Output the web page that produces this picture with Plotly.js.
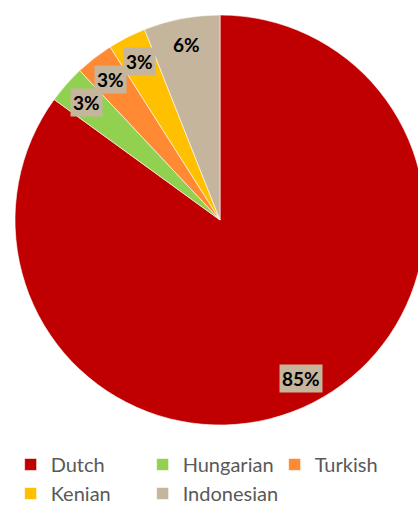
<!DOCTYPE html>
<html><head><meta charset="utf-8">
<script src="https://cdn.plot.ly/plotly-3.0.1.min.js"></script>
<style>html,body{margin:0;padding:0;overflow:hidden;background:#fff}#chart{width:425px;height:518px}</style>
</head><body><div id="chart"></div>
<script>
const categories = ["Dutch", "Hungarian", "Turkish", "Kenian", "Indonesian"];
const values = [85, 3, 3, 3, 6];
const colors = ["#C00000", "#92D050", "#FF8A33", "#FFC000", "#C4B59C"];

const W = 425, H = 518;
const domX = [15 / W, 1];
const domY = [(H - 425) / H, (H - 15) / H];
const cx = (domX[0] + domX[1]) / 2 * W;
const cy = H - (domY[0] + domY[1]) / 2 * H;
const R = Math.min((domX[1] - domX[0]) * W, (domY[1] - domY[0]) * H) / 2;

const total = values.reduce((a, b) => a + b, 0);
const annotations = [];
let cum = 0;
values.forEach((v, i) => {
  const mid = (cum + v / 2) / total * 2 * Math.PI;
  cum += v;
  const r = R * 0.87;
  const px = cx + r * Math.sin(mid);
  const py = cy - r * Math.cos(mid);
  annotations.push({
    x: px / W, y: 1 - py / H, xref: "paper", yref: "paper",
    xanchor: "center", yanchor: "middle",
    text: Math.round(v / total * 100) + "%", showarrow: false,
    font: {family: "Lato, 'Liberation Sans', sans-serif", size: 19, color: "#000", weight: "bold"},
    bgcolor: "#C4B59C", borderpad: 2
  });
});

const trace = {
  type: "pie", labels: categories, values: values, sort: false,
  direction: "clockwise", rotation: 0, textinfo: "none", hoverinfo: "label+percent",
  marker: {colors: colors, line: {color: "#ffffff", width: 0.6}},
  domain: {x: domX, y: domY}
};

const layout = {
  width: W, height: H, margin: {l: 0, r: 0, t: 0, b: 0},
  paper_bgcolor: "#fff", showlegend: true,
  legend: {orientation: "h", x: 0.025, xanchor: "left", y: 0.141, yanchor: "top",
    entrywidth: 87, entrywidthmode: "pixels", traceorder: "normal",
    font: {family: "Lato, 'Liberation Sans', sans-serif", size: 20, color: "#595959"}},
  annotations: annotations
};
Plotly.newPlot("chart", [trace], layout, {displayModeBar: false, staticPlot: true});
</script></body></html>
